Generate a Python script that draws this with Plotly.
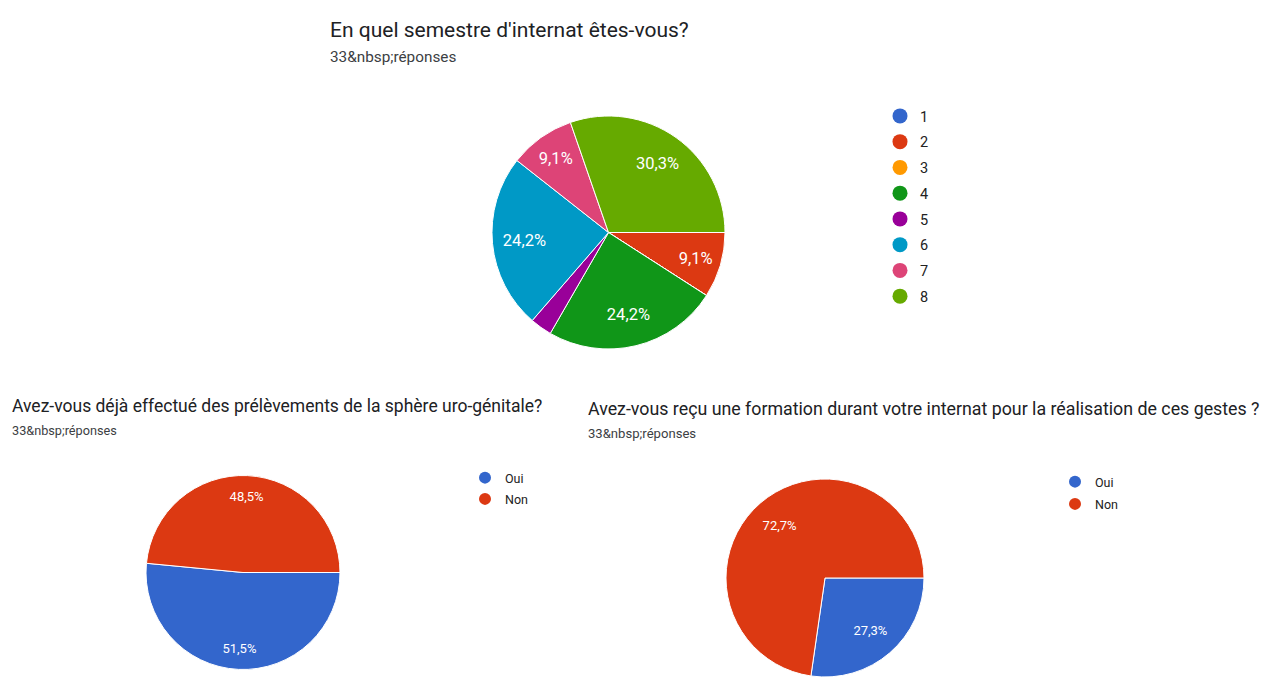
import plotly.graph_objects as go

W, H = 1264, 677

# ---------------- data ----------------
semestre_labels = ["1", "2", "3", "4", "5", "6", "7", "8"]
semestre_values = [0, 3, 0, 8, 1, 8, 3, 10]
semestre_colors = ["#3366CC", "#DC3912", "#FF9900", "#109618",
                   "#990099", "#0099C6", "#DD4477", "#66AA00"]

oui_non_labels = ["Oui", "Non"]
prelevements_values = [17, 16]
formation_values = [9, 24]
oui_non_colors = ["#3366CC", "#DC3912"]

title_semestre = "En quel semestre d'internat êtes-vous?"
title_prelevements = "Avez-vous déjà effectué des prélèvements de la sphère uro-génitale?"
title_formation = "Avez-vous reçu une formation durant votre internat pour la réalisation de ces gestes ?"
subtitle_reponses = "33&amp;nbsp;réponses"

FONT = "Roboto, Arial, sans-serif"


def px_x(v):
    return v / W


def px_y(v):
    return 1 - v / H


def templates(values, minimum=0.05):
    total = sum(values)
    return ["%{percent:.1%}" if v / total >= minimum else "" for v in values]


fig = go.Figure()

# (labels, values, colors, x-range px, y-range px, label font size, label ring)
pies = [
    (semestre_labels, semestre_values, semestre_colors, (492, 725), (116, 349), 16.5, 0.45),
    (oui_non_labels, prelevements_values, oui_non_colors, (146, 340), (475, 670), 13, 0.56),
    (oui_non_labels, formation_values, oui_non_colors, (726, 924), (479, 677), 13, 0.4),
]
for labels, values, colors, xs, ys, fs, hole in pies:
    dom = dict(x=[px_x(xs[0]), px_x(xs[1])], y=[px_y(ys[1]), px_y(ys[0])])
    # filled pie
    fig.add_trace(go.Pie(
        labels=labels, values=values, sort=False, direction="clockwise",
        rotation=90,
        marker=dict(colors=colors, line=dict(color="white", width=1)),
        textinfo="none", domain=dom, showlegend=False,
        hoverinfo="label+value+percent",
    ))
    # transparent overlay carrying the percentage labels further out
    fig.add_trace(go.Pie(
        labels=labels, values=values, sort=False, direction="clockwise",
        rotation=90, hole=hole,
        marker=dict(colors=["rgba(0,0,0,0)"] * len(values), line=dict(width=0)),
        texttemplate=templates(values), textposition="inside",
        insidetextorientation="horizontal",
        textfont=dict(color="white", size=fs, family=FONT),
        domain=dom, showlegend=False, hoverinfo="skip",
    ))

# legend entries (circle swatches)
for lab, col in zip(semestre_labels, semestre_colors):
    fig.add_trace(go.Scatter(x=[None], y=[None], mode="markers", name=lab,
                             marker=dict(color=col, size=15), legend="legend",
                             legendgroup="s" + lab))
for lab, col in zip(oui_non_labels, oui_non_colors):
    fig.add_trace(go.Scatter(x=[None], y=[None], mode="markers", name=lab,
                             marker=dict(color=col, size=12), legend="legend2",
                             legendgroup="p" + lab))
for lab, col in zip(oui_non_labels, oui_non_colors):
    fig.add_trace(go.Scatter(x=[None], y=[None], mode="markers", name=lab,
                             marker=dict(color=col, size=12), legend="legend3",
                             legendgroup="f" + lab))

annotations = [
    dict(text=title_semestre, x=px_x(328), y=px_y(30), font=dict(size=21, color="#202124")),
    dict(text=subtitle_reponses, x=px_x(328), y=px_y(57), font=dict(size=15.3, color="#3c4043")),
    dict(text=title_prelevements, x=px_x(10), y=px_y(406), font=dict(size=17.5, color="#202124")),
    dict(text=subtitle_reponses, x=px_x(10), y=px_y(430), font=dict(size=12.7, color="#3c4043")),
    dict(text=title_formation, x=px_x(586), y=px_y(409), font=dict(size=17.8, color="#202124")),
    dict(text=subtitle_reponses, x=px_x(586), y=px_y(433), font=dict(size=13.1, color="#3c4043")),
]
for a in annotations:
    a.update(xref="paper", yref="paper", xanchor="left", yanchor="middle",
             showarrow=False)
    a["font"]["family"] = FONT

fig.update_layout(
    width=W, height=H, autosize=False,
    margin=dict(l=0, r=0, t=0, b=0),
    paper_bgcolor="white", plot_bgcolor="white",
    separators=", ",
    font=dict(family=FONT, color="#222222"),
    xaxis=dict(visible=False), yaxis=dict(visible=False),
    annotations=annotations,
    legend=dict(x=px_x(880), y=px_y(100), xanchor="left", yanchor="top",
                font=dict(size=14.5, color="#222222"), traceorder="grouped",
                tracegroupgap=3.9, itemclick=False, itemdoubleclick=False),
    legend2=dict(x=px_x(465), y=px_y(463), xanchor="left", yanchor="top",
                 font=dict(size=12.5, color="#222222"), traceorder="grouped",
                 tracegroupgap=2, itemclick=False, itemdoubleclick=False),
    legend3=dict(x=px_x(1055), y=px_y(467), xanchor="left", yanchor="top",
                 font=dict(size=12.5, color="#222222"), traceorder="grouped",
                 tracegroupgap=3, itemclick=False, itemdoubleclick=False),
)

fig.write_html("out.html", config={"displayModeBar": False},
               post_script="document.body.style.margin='0';")
